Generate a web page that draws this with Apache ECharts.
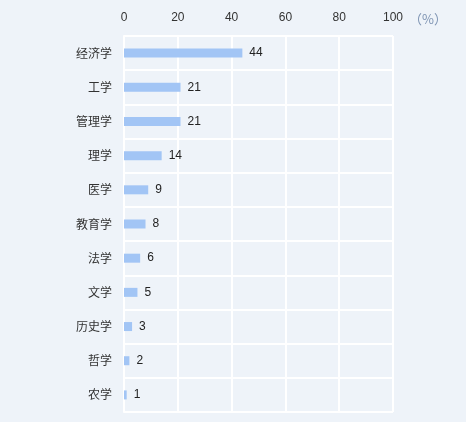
<!DOCTYPE html>
<html><head><meta charset="utf-8">
<script src="https://cdn.jsdelivr.net/npm/echarts@6/dist/echarts.min.js"></script>
<style>html,body{margin:0;padding:0;background:#eef3f9;}#c{width:466px;height:422px;}</style>
</head><body><div id="c"></div>
<script>
var categories = ['经济学','工学','管理学','理学','医学','教育学','法学','文学','历史学','哲学','农学'];
var values = [44,21,21,14,9,8,6,5,3,2,1];
var xTicks = [0,20,40,60,80,100];
var chart = echarts.init(document.getElementById('c'));
chart.setOption({
  backgroundColor: '#eef3f9',
  animation: false,
  grid: {left:124, right:73, top:36, bottom:10},
  xAxis: {
    type:'value', position:'top', min:xTicks[0], max:xTicks[xTicks.length-1], interval:20,
    name:'（%）', nameLocation:'end', nameGap:16,
    nameTextStyle:{color:'#7d93b3', fontSize:13, fontFamily:'"Noto Sans CJK SC"', verticalAlign:'bottom', padding:[0,0,10,0]},
    axisLine:{show:false}, axisTick:{show:false},
    axisLabel:{color:'#333', fontSize:12, margin:12, fontFamily:'Arial'},
    splitLine:{show:true, lineStyle:{color:'#ffffff', width:2}}
  },
  yAxis: {
    type:'category', data:categories, inverse:true,
    axisLine:{show:true, lineStyle:{color:'#ffffff', width:2}},
    axisTick:{show:false},
    axisLabel:{color:'#333', fontSize:12, margin:12, fontFamily:'Noto Sans CJK SC'},
    splitLine:{show:true, lineStyle:{color:'#ffffff', width:2}}
  },
  series: [{
    type:'bar', data:values, barWidth:9,
    itemStyle:{color:'#a2c5f5'},
    label:{show:true, position:'right', distance:7, color:'#222', fontSize:12, fontFamily:'Arial'}
  }]
});
</script></body></html>
